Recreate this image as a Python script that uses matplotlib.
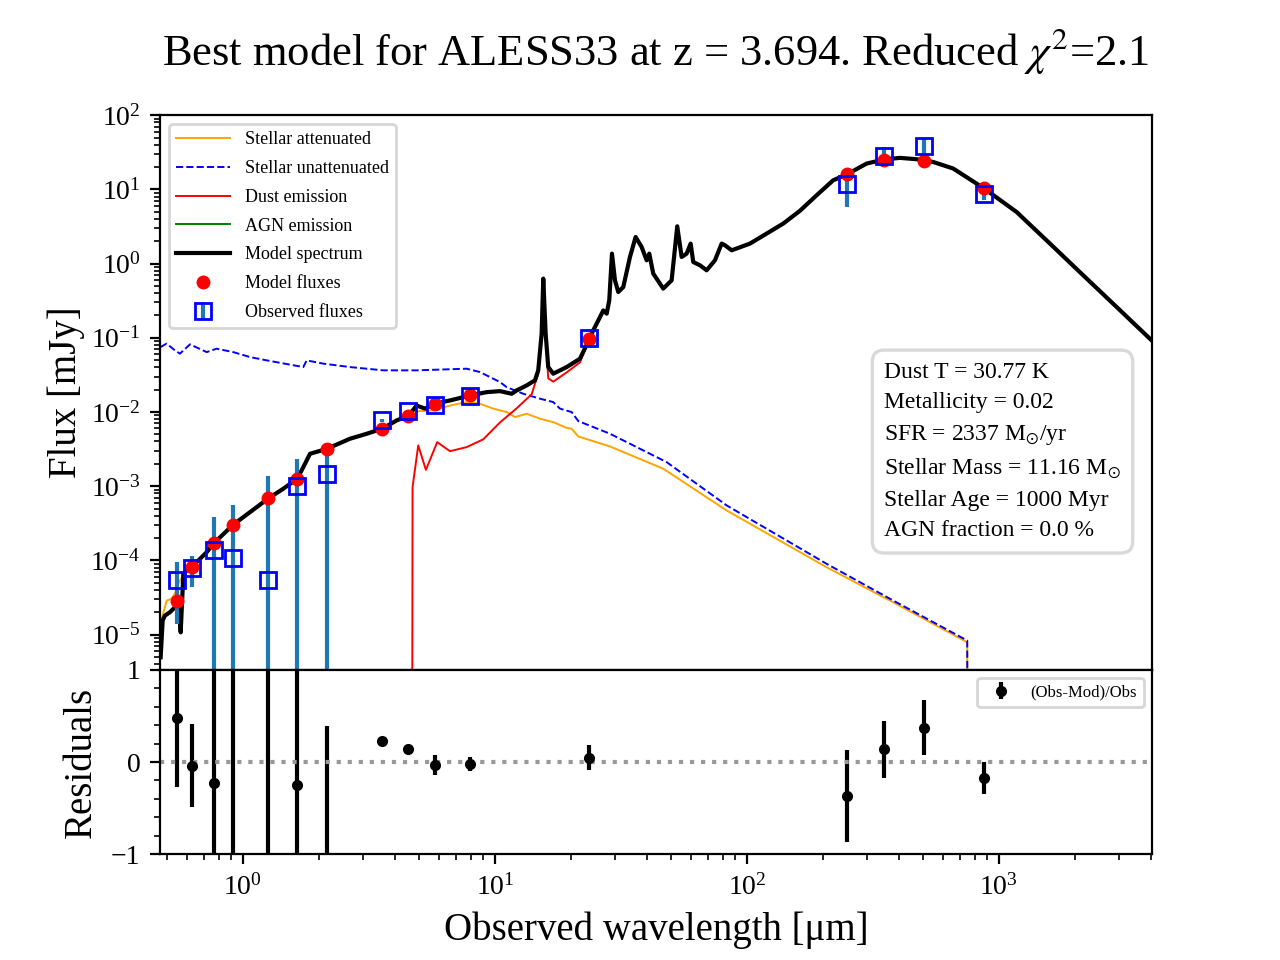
import numpy as np
import matplotlib
matplotlib.use("Agg")
import matplotlib.pyplot as plt
from matplotlib.ticker import MultipleLocator

plt.rcParams['font.family'] = 'serif'
plt.rcParams['font.serif'] = ['Liberation Serif', 'DejaVu Serif']
plt.rcParams['mathtext.fontset'] = 'stix'

# model spectrum (total), wavelength in micron, flux in mJy
model_wl = [0.4713, 0.480, 0.490, 0.513, 0.537, 0.555, 0.566, 0.580, 0.616, 0.665, 0.718, 0.769,
            0.913, 1.066, 1.260, 1.445, 1.642, 1.735, 1.845, 2.154, 2.66, 3.10, 3.57, 4.07, 4.53,
            4.89, 5.28, 5.80, 6.63, 7.98, 9.27, 10.47, 11.65, 12.19, 13.36, 14.41, 14.85, 15.32,
            15.55, 15.89, 16.27, 17.03, 19.26, 21.74, 23.67, 24.55, 26.11, 26.91, 27.76, 28.42,
            29.13, 29.94, 30.86, 32.30, 34.34, 36.16, 38.20, 39.99, 40.96, 42.48, 46.54, 50.25,
            52.89, 55.06, 57.64, 59.79, 61.23, 65.10, 69.20, 74.64, 79.36, 81.80, 86.98, 102.8,
            119.7, 139.3, 162.3, 189.1, 220.0, 250.0, 298.5, 350.6, 404.6, 471.4, 548.8, 658.6,
            874.7, 1175, 1594, 2160, 2932, 4036]
model_spec = [4.94e-6, 1.54e-5, 1.80e-5, 2.00e-5, 2.33e-5, 2.46e-5, 1.07e-5, 6.58e-5, 8.07e-5,
              9.95e-5, 1.29e-4, 1.72e-4, 3.01e-4, 4.46e-4, 6.83e-4, 9.23e-4, 1.26e-3, 1.80e-3,
              2.73e-3, 3.19e-3, 4.36e-3, 5.09e-3, 5.94e-3, 7.69e-3, 8.89e-3, 1.22e-2, 1.11e-2,
              1.30e-2, 1.43e-2, 1.67e-2, 1.85e-2, 1.91e-2, 1.76e-2, 1.95e-2, 2.28e-2, 2.67e-2,
              3.64e-2, 0.1138, 0.627, 0.1138, 4.03e-2, 3.28e-2, 4.03e-2, 5.22e-2, 9.53e-2, 0.126,
              0.190, 0.234, 0.2115, 0.320, 1.363, 0.595, 0.414, 0.483, 1.227, 2.283, 1.674, 1.107,
              1.363, 0.733, 0.460, 0.595, 3.18, 1.227, 1.363, 1.860, 1.050, 0.948, 0.812, 1.107,
              1.860, 1.765, 1.510, 1.860, 2.537, 3.46, 5.15, 8.34, 13.28, 16.0, 22.3, 25.3, 26.6,
              25.5, 23.4, 19.1, 10.26, 4.96, 1.860, 0.695, 0.2597, 0.0923]

# stellar attenuated
att_wl = [0.476, 0.498, 0.521, 0.537, 0.554, 0.580, 0.616, 0.665, 0.718, 0.769, 0.913, 1.066,
          1.260, 1.445, 1.642, 1.735, 1.845, 2.154, 2.66, 3.10, 3.57, 4.07, 4.53, 4.89, 5.69,
          6.63, 7.72, 8.72, 9.85, 11.13, 12.01, 13.36, 15.09, 17.03, 19.26, 20.16, 21.41, 28.60,
          46.54, 83.1, 207.2, 380.7, 748.5, 755.3]
att_flux = [1.64e-5, 2.87e-5, 3.05e-5, 3.57e-5, 4.87e-5, 6.4e-5, 7.9e-5, 9.8e-5, 1.27e-4,
            1.70e-4, 2.97e-4, 4.4e-4, 6.7e-4, 9.1e-4, 1.24e-3, 1.77e-3, 2.69e-3, 3.15e-3, 4.3e-3,
            5.0e-3, 5.85e-3, 7.55e-3, 8.7e-3, 1.02e-2, 1.05e-2, 1.22e-2, 1.36e-2, 1.29e-2,
            1.11e-2, 9.96e-3, 8.53e-3, 9.47e-3, 8.11e-3, 7.30e-3, 6.10e-3, 5.94e-3, 4.68e-3,
            3.43e-3, 1.72e-3, 4.70e-4, 8.07e-5, 2.72e-5, 7.87e-6, 1e-12]

# stellar unattenuated
unatt_wl = [0.4706, 0.498, 0.537, 0.562, 0.616, 0.718, 0.786, 0.915, 1.066, 1.242, 1.735, 1.790,
            2.083, 2.66, 3.60, 4.89, 7.72, 8.72, 10.47, 11.13, 12.95, 15.09, 17.03, 18.11, 20.16,
            21.41, 28.60, 48.0, 83.1, 207.2, 380.7, 748.5, 755.3]
unatt_flux = [7.50e-2, 8.34e-2, 6.76e-2, 6.11e-2, 8.15e-2, 6.41e-2, 7.13e-2, 6.41e-2, 5.50e-2,
              4.96e-2, 4.03e-2, 4.96e-2, 4.48e-2, 4.03e-2, 3.64e-2, 3.64e-2, 3.83e-2, 3.45e-2,
              2.53e-2, 2.16e-2, 1.76e-2, 1.51e-2, 1.36e-2, 1.11e-2, 9.96e-3, 7.54e-3, 5.09e-3,
              2.11e-3, 5.50e-4, 8.97e-5, 2.87e-5, 8.30e-6, 1e-12]

# dust emission below 23 micron (above that it is the model spectrum)
dust_wl_mir = [4.67, 4.71, 4.96, 5.32, 5.90, 6.63, 7.72, 8.98, 10.47, 12.19, 13.98, 14.85, 15.32,
               15.55, 15.89, 16.27, 17.03, 19.26, 21.74]
dust_flux_mir = [1e-12, 9.7e-4, 3.54e-3, 1.66e-3, 3.92e-3, 2.96e-3, 3.36e-3, 4.27e-3, 7.23e-3,
                 1.12e-2, 1.73e-2, 3.28e-2, 0.108, 0.62, 0.108, 2.84e-2, 2.56e-2, 3.42e-2, 4.66e-2]

# photometry
obs_wl = [0.548, 0.629, 0.769, 0.913, 1.26, 1.64, 2.15, 3.57, 4.53, 5.80, 7.98, 23.7,
          250, 351, 505, 875]
obs_flux = [5.47e-5, 7.93e-5, 1.40e-4, 1.08e-4, 5.47e-5, 1.01e-3, 1.47e-3, 7.69e-3, 1.03e-2,
            1.26e-2, 1.64e-2, 0.100, 11.7, 28.6, 38.2, 8.79]
obs_err = [4.1e-5, 3.55e-5, 2.5e-4, 4.58e-4, 1.30e-3, 1.28e-3, 2.29e-3, 3e-4, 4e-4, 1.31e-3,
           1.23e-3, 0.0138, 5.87, 8.87, 11.3, 1.51]
model_flux = [2.87e-5, 8.26e-5, 1.72e-4, 3.01e-4, 6.83e-4, 1.26e-3, 3.19e-3, 5.94e-3, 8.89e-3,
              1.30e-2, 1.67e-2, 0.0953, 16.0, 24.7, 24.0, 10.3]

params_text = ("Dust T = 30.77 K\n"
               "Metallicity = 0.02\n"
               "SFR = 2337 M$_{\\odot}$/yr\n"
               "Stellar Mass = 11.16 M$_{\\odot}$\n"
               "Stellar Age = 1000 Myr\n"
               "AGN fraction = 0.0 %")

model_wl = np.array(model_wl)
model_spec = np.array(model_spec)
dust_wl = np.concatenate([dust_wl_mir, model_wl[model_wl > 23]])
dust_flux = np.concatenate([dust_flux_mir, model_spec[model_wl > 23]])
agn_flux = np.zeros_like(model_spec)

obs_flux = np.array(obs_flux)
model_flux = np.array(model_flux)
obs_err = np.array(obs_err)
resid = (obs_flux - model_flux) / obs_flux
resid_err = obs_err / obs_flux

fig = plt.figure(figsize=(6.4, 4.8), dpi=200)
gs = fig.add_gridspec(2, 1, height_ratios=[3, 1], hspace=0)
ax = fig.add_subplot(gs[0])
axr = fig.add_subplot(gs[1], sharex=ax)

ax.plot(att_wl, att_flux, color='orange', lw=0.7, label='Stellar attenuated')
ax.plot(unatt_wl, unatt_flux, color='blue', lw=0.7, ls='--', label='Stellar unattenuated')
ax.plot(dust_wl, dust_flux, color='red', lw=0.7, label='Dust emission')
ax.plot(model_wl, agn_flux, color='green', lw=0.7, label='AGN emission')
ax.plot(model_wl, model_spec, color='black', lw=1.5, label='Model spectrum')
ax.errorbar(obs_wl, obs_flux, yerr=obs_err, fmt='s', mfc='none', mec='blue', ms=6,
            ecolor='C0', label='Observed fluxes')
ax.plot(obs_wl, model_flux, 'o', color='red', ms=4, label='Model fluxes')

ax.set_xscale('log')
ax.set_yscale('log')
ax.set_xlim(0.4685, 4050)
ax.set_ylim(3.37e-6, 100)
ax.set_ylabel('Flux [mJy]', fontsize=14, labelpad=2)
ax.set_title('Best model for ALESS33 at z = 3.694. Reduced $\\chi^2$=2.1', fontsize=16, pad=18)
ax.tick_params(axis='x', which='both', bottom=False, labelbottom=False)
ax.legend(loc='upper left', fontsize=6.5, handlelength=3, labelspacing=0.65)
ax.text(0.73, 0.555, params_text, transform=ax.transAxes, fontsize=8.5, va='top', ha='left',
        linespacing=1.57,
        bbox=dict(boxstyle='round,pad=0.5', facecolor='white', edgecolor='0.85', lw=1.2))

axr.errorbar(obs_wl, resid, yerr=resid_err, fmt='o', color='black', ms=3,
             label='(Obs-Mod)/Obs')
axr.axhline(0, color='#999999', ls=':', lw=1.5)
axr.set_ylim(-1, 1)
axr.yaxis.set_major_locator(MultipleLocator(1))
axr.yaxis.set_minor_locator(MultipleLocator(0.2))
axr.set_ylabel('Residuals', fontsize=14)
axr.set_xlabel('Observed wavelength [μm]', fontsize=14)
axr.legend(loc='upper right', fontsize=6)

fig.savefig('out.png', dpi=200)
